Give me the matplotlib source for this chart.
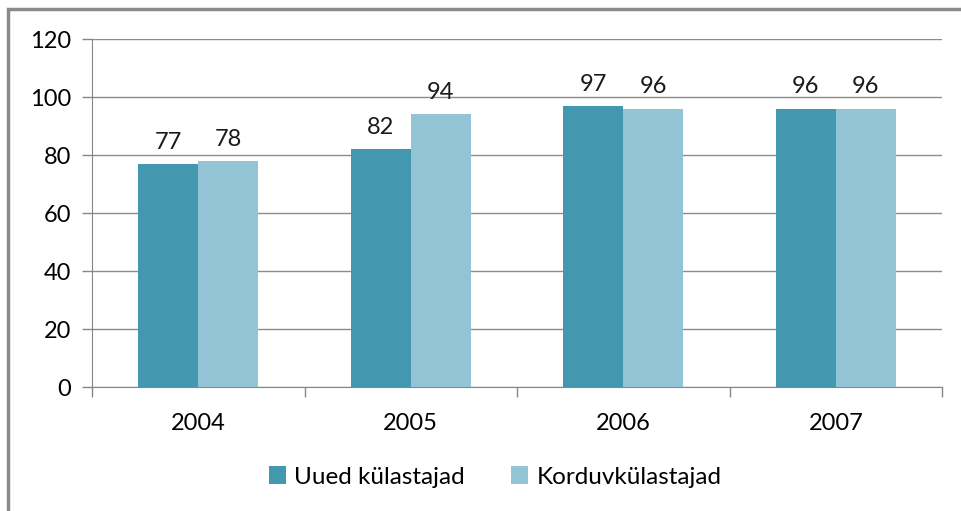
import numpy as np
import matplotlib.pyplot as plt
from matplotlib.patches import Rectangle

years = ['2004', '2005', '2006', '2007']
uued = [77, 82, 97, 96]
korduv = [78, 94, 96, 96]
series_names = ['Uued külastajad', 'Korduvkülastajad']

dark = '#4397ae'
light = '#93c4d5'
grey = '#868686'
fs = 17

plt.rc('font', family=['Lato', 'DejaVu Sans'], size=fs)

W, H = 961, 511
fig = plt.figure(figsize=(W / 100, H / 100), dpi=100)
ax = fig.add_axes([92 / W, 124 / H, 850 / W, 348 / H])

# outer chart frame (only top and left edges fall inside the canvas)
fig.patches.append(Rectangle((8 / W, -0.05), 1.2, (H - 9) / H + 0.05,
                             transform=fig.transFigure, fill=False,
                             edgecolor='#8a8a8a', lw=2.5))

x = np.arange(len(years))
w = 0.283
b1 = ax.bar(x - w / 2, uued, w, color=dark, label=series_names[0], zorder=3)
b2 = ax.bar(x + w / 2, korduv, w, color=light, label=series_names[1], zorder=3)

for bars, vals in ((b1, uued), (b2, korduv)):
    for r, v in zip(bars, vals):
        ax.annotate(str(v), (r.get_x() + r.get_width() / 2, v),
                    xytext=(0, 8), textcoords='offset points',
                    ha='center', va='bottom', fontsize=fs, color='#1a1a1a')

ax.set_ylim(0, 120)
ax.set_yticks(range(0, 121, 20))
ax.set_xlim(-0.5, len(years) - 0.5)
ax.set_xticks(x)
ax.set_xticklabels(years)
ax.set_xticks(np.arange(-0.5, len(years)), minor=True)
ax.tick_params(axis='x', which='major', length=0, pad=19, labelsize=fs)
ax.tick_params(axis='x', which='minor', length=7, color=grey, width=1)
ax.tick_params(axis='y', length=7, color=grey, width=1, pad=8, labelsize=fs)

ax.grid(axis='y', color='#8c8c8c', lw=1, zorder=0)
for s in ('top', 'right'):
    ax.spines[s].set_visible(False)
ax.spines['left'].set_color(grey)
ax.spines['bottom'].set_color(grey)

fig.legend(handles=[b1, b2], labels=series_names, loc='center',
           bbox_to_anchor=(495 / W, 1 - 477 / H), ncol=2, frameon=False,
           handlelength=0.7, handleheight=0.7, handletextpad=0.35,
           columnspacing=1.9, fontsize=fs + 0.5)

fig.savefig('out.png', dpi=100)
